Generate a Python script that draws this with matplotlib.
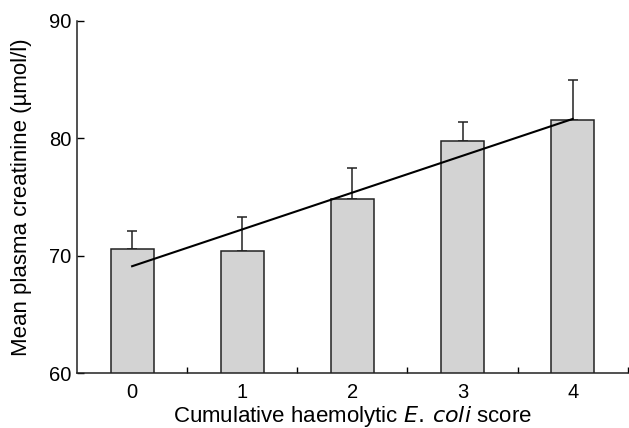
import matplotlib
matplotlib.use("Agg")
import matplotlib.pyplot as plt
import numpy as np

scores = [0, 1, 2, 3, 4]
tick_labels = ["0", "1", "2", "3", "4"]
means = [70.6, 70.4, 74.85, 79.8, 81.6]
err_upper = [1.5, 2.9, 2.65, 1.55, 3.4]
trend_x = [0, 4]
trend_y = [69.1, 81.65]

plt.rcParams['font.family'] = ['Liberation Sans', 'DejaVu Sans']

fig = plt.figure(figsize=(6.29, 4.28), dpi=100)
ax = fig.add_axes([0.1225, 0.1285, 0.8755, 0.8225])

x = np.array(scores)
ax.bar(x, means, width=0.39, bottom=0, color='#d3d3d3', edgecolor='#222222', linewidth=1.1, zorder=2)
ax.errorbar(x, means, yerr=[np.zeros(len(x)), err_upper], fmt='none', ecolor='#222222',
            elinewidth=1.1, capsize=3.5, capthick=1.1, zorder=1)
ax.plot(trend_x, trend_y, color='black', linewidth=1.5, zorder=3)

ax.set_xlim(-0.5, 4.5)
ax.set_ylim(60, 90)
ax.set_yticks([60, 70, 80, 90])
ax.set_xticks(x)
ax.set_xticklabels(tick_labels)
ax.set_xticks(np.arange(0.5, 4.6, 1.0), minor=True)
ax.tick_params(axis='x', which='major', length=0, labelsize=14.5, pad=7)
ax.tick_params(axis='x', which='minor', length=4, direction='in', width=1)
ax.tick_params(axis='y', which='major', length=5, direction='in', width=1, labelsize=14.5, pad=4)

for s in ['top', 'right']:
    ax.spines[s].set_visible(False)
for s in ['left', 'bottom']:
    ax.spines[s].set_linewidth(1.1)
    ax.spines[s].set_color('#222222')

ax.set_ylabel('Mean plasma creatinine (µmol/l)', fontsize=16)
ax.yaxis.set_label_coords(-0.082, 0.5)
ax.set_xlabel('Cumulative haemolytic $\\it{E.\\,coli}$ score', fontsize=16)
ax.xaxis.set_label_coords(0.5, -0.088)
ax.xaxis.label.set_va('top')

fig.savefig('out.png', dpi=100)
